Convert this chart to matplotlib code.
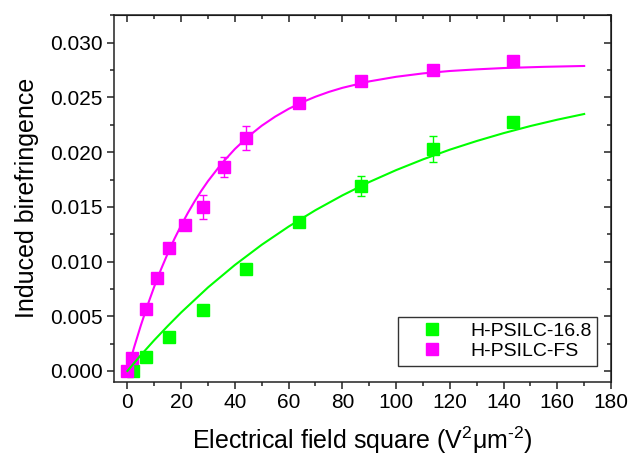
import matplotlib
matplotlib.use("Agg")
import matplotlib.pyplot as plt
from matplotlib.lines import Line2D
from matplotlib.ticker import MultipleLocator, FormatStrFormatter

plt.rcParams["font.family"] = ["Liberation Sans", "DejaVu Sans"]
plt.rcParams["mathtext.fontset"] = "custom"
plt.rcParams["mathtext.rm"] = "Liberation Sans"
plt.rcParams["mathtext.it"] = "Liberation Sans"

# measured points
fs_x = [0, 1.6, 7.0, 10.9, 15.6, 21.6, 28.2, 35.9, 44.2, 63.7, 87.0, 113.7, 143.5]
fs_y = [0.0, 0.00122, 0.00564, 0.00847, 0.01127, 0.01335, 0.0150, 0.01867, 0.0213,
        0.02447, 0.0265, 0.0275, 0.02834]
fs_err = [0.0001, 0.0001, 0.0001, 0.0001, 0.0001, 0.0001, 0.0011, 0.0009, 0.0011,
          0.0003, 0.0003, 0.0003, 0.0003]

g_x = [2.0, 7.0, 15.6, 28.2, 44.2, 63.7, 87.0, 113.7, 143.5]
g_y = [0.0, 0.00125, 0.00314, 0.00558, 0.00935, 0.01359, 0.0169, 0.0203, 0.0228]
g_err = [0.0001, 0.0001, 0.0001, 0.0001, 0.0001, 0.0004, 0.0009, 0.0012, 0.0002]

# fitted curves
fs_fit_x = [0, 2.5, 5, 7.5, 10, 12.5, 15, 17.5, 20, 22.5, 25, 27.5, 30, 35, 40, 45,
            50, 55, 60, 65, 70, 75, 80, 90, 100, 110, 120, 130, 140, 155, 170]
fs_fit_y = [0.0, 0.00217, 0.00417, 0.00601, 0.00772, 0.00929, 0.01074, 0.01208,
            0.01331, 0.01445, 0.01550, 0.01647, 0.01736, 0.01894, 0.02029,
            0.02144, 0.02242, 0.02325, 0.02396, 0.02456, 0.02507, 0.02551,
            0.02588, 0.02647, 0.02689, 0.02720, 0.02742, 0.02757, 0.02769,
            0.02780, 0.02788]

g_fit_x = [0, 5, 10, 15, 20, 30, 40, 50, 60, 70, 80, 90, 100, 110, 120, 130, 140,
           150, 160, 170]
g_fit_y = [0.0, 0.00145, 0.00282, 0.00411, 0.00535, 0.00764, 0.00969, 0.01154,
           0.01320, 0.01470, 0.01605, 0.01727, 0.01836, 0.01934, 0.02023,
           0.02102, 0.02174, 0.02239, 0.02297, 0.02349]

labels = ["H-PSILC-16.8", "H-PSILC-FS"]
green = "#00ff00"
magenta = "#ff00ff"

fig = plt.figure(figsize=(6.28, 4.61), dpi=100)
ax = fig.add_axes([0.1815, 0.172, 0.7915, 0.7955])

ax.errorbar(g_x, g_y, yerr=g_err, fmt="s", color=green, ms=9, mec=green,
            elinewidth=1, capsize=3, capthick=1, zorder=2)
ax.errorbar(fs_x, fs_y, yerr=fs_err, fmt="s", color=magenta, ms=9, mec=magenta,
            elinewidth=1, capsize=3, capthick=1, zorder=3)
ax.plot(fs_fit_x, fs_fit_y, color=magenta, lw=1.5, zorder=4)
ax.plot(g_fit_x, g_fit_y, color=green, lw=1.5, zorder=4)

ax.set_xlim(-5, 180)
ax.set_ylim(-0.00098, 0.03254)
ax.xaxis.set_major_locator(MultipleLocator(20))
ax.xaxis.set_minor_locator(MultipleLocator(10))
ax.yaxis.set_major_locator(MultipleLocator(0.005))
ax.yaxis.set_minor_locator(MultipleLocator(0.0025))
ax.yaxis.set_major_formatter(FormatStrFormatter("%.3f"))

for s in ax.spines.values():
    s.set_linewidth(1.1)
    s.set_color("#222222")

ax.tick_params(which="both", direction="out", width=1.1, labelsize=15,
               colors="#222222", labelcolor="black")
ax.tick_params(which="major", length=5, pad=3)
ax.tick_params(which="minor", length=3)

# mirrored ticks pointing inward on top and right
top = ax.secondary_xaxis("top")
top.xaxis.set_major_locator(MultipleLocator(20))
top.xaxis.set_minor_locator(MultipleLocator(10))
top.tick_params(which="both", direction="in", width=1.1, labeltop=False,
                colors="#222222")
top.tick_params(which="major", length=5)
top.tick_params(which="minor", length=3)
right = ax.secondary_yaxis("right")
right.yaxis.set_major_locator(MultipleLocator(0.005))
right.yaxis.set_minor_locator(MultipleLocator(0.0025))
right.tick_params(which="both", direction="in", width=1.1, labelright=False,
                  colors="#222222")
right.tick_params(which="major", length=5)
right.tick_params(which="minor", length=3)

ax.set_xlabel(r"Electrical field square (V$^{2}$$\mu$m$^{\text{-}2}$)",
              fontsize=18, labelpad=9)
ax.set_ylabel("Induced birefringence", fontsize=18, labelpad=8)

handles = [Line2D([], [], ls="none", marker="s", ms=9, color=green),
           Line2D([], [], ls="none", marker="s", ms=9, color=magenta)]
leg = ax.legend(handles, labels, loc="lower right", fontsize=14, frameon=True,
                fancybox=False, edgecolor="black", handletextpad=0.5,
                handlelength=2.9, borderpad=0.3, labelspacing=0.1,
                borderaxespad=0, bbox_to_anchor=(0.972, 0.044))
leg.get_frame().set_linewidth(1.0)

fig.savefig("out.png", dpi=100)
